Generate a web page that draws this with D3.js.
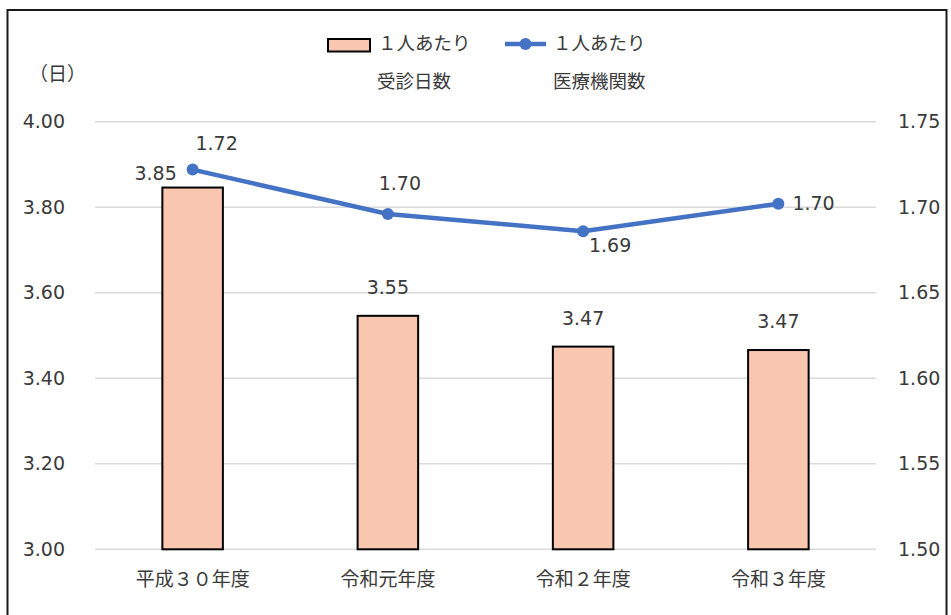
<!DOCTYPE html>
<html lang="ja">
<head>
<meta charset="utf-8">
<script src="https://cdn.jsdelivr.net/npm/d3@7"></script>
<style>
  html, body { margin: 0; padding: 0; background: #fff; }
  svg { display: block; }
</style>
</head>
<body>
<svg id="chart" width="951" height="615"></svg>
<script>
// Fiscal years on the x axis
const categories = ["平成３０年度", "令和元年度", "令和２年度", "令和３年度"];
// Consultation days per person (left axis, bars)
const daysPerPerson = [3.846, 3.546, 3.474, 3.466];
// Medical institutions per person (right axis, line)
const institutionsPerPerson = [1.722, 1.696, 1.686, 1.702];
// Axis ticks
const leftTicks = [3.0, 3.2, 3.4, 3.6, 3.8, 4.0];
const rightTicks = [1.50, 1.55, 1.60, 1.65, 1.70, 1.75];

const numFont = "'DejaVu Sans', Verdana, sans-serif";
const jpFont = "'Noto Sans CJK JP', 'Noto Sans', sans-serif";
const textColor = "#3a3a3a";
const barFill = "#F9C6AF";
const lineColor = "#4472C4";
const numSize = 19;

const svg = d3.select("#chart");
const plot = { left: 95, right: 876, top: 121.7, bottom: 549.3 };

const x = d3.scaleBand()
  .domain(categories)
  .range([plot.left, plot.right])
  .paddingInner(0.69)
  .paddingOuter(0.345);

const yLeft = d3.scaleLinear().domain([3.0, 4.0]).range([plot.bottom, plot.top]);
const yRight = d3.scaleLinear().domain([1.50, 1.75]).range([plot.bottom, plot.top]);
const fmt = d3.format(".2f");

// Outer frame
svg.append("rect")
  .attr("x", 7.5).attr("y", 10)
  .attr("width", 939).attr("height", 640)
  .attr("fill", "none")
  .attr("stroke", "#1a1a1a")
  .attr("stroke-width", 2);

// Gridlines
svg.append("g")
  .selectAll("line")
  .data(leftTicks)
  .join("line")
  .attr("x1", plot.left).attr("x2", plot.right)
  .attr("y1", d => yLeft(d)).attr("y2", d => yLeft(d))
  .attr("stroke", "#d9d9d9")
  .attr("stroke-width", 1.5);

// Left axis
const leftAxis = svg.append("g")
  .attr("transform", `translate(${plot.left},0)`)
  .call(d3.axisLeft(yLeft).tickValues(leftTicks).tickFormat(fmt).tickSize(0).tickPadding(30));
leftAxis.select(".domain").remove();
leftAxis.selectAll("text")
  .attr("font-family", numFont).attr("font-size", numSize).attr("fill", textColor);

// Right axis
const rightAxis = svg.append("g")
  .attr("transform", `translate(${plot.right},0)`)
  .call(d3.axisRight(yRight).tickValues(rightTicks).tickFormat(fmt).tickSize(0).tickPadding(22));
rightAxis.select(".domain").remove();
rightAxis.selectAll("text")
  .attr("font-family", numFont).attr("font-size", numSize).attr("fill", textColor);

// Category axis
const bottomAxis = svg.append("g")
  .attr("transform", `translate(0,${plot.bottom})`)
  .call(d3.axisBottom(x).tickSize(0).tickPadding(23));
bottomAxis.select(".domain").remove();
bottomAxis.selectAll("text")
  .attr("font-family", jpFont).attr("font-size", 19).attr("fill", textColor);

// Bars
svg.append("g")
  .selectAll("rect")
  .data(daysPerPerson)
  .join("rect")
  .attr("x", (d, i) => x(categories[i]))
  .attr("width", x.bandwidth())
  .attr("y", d => yLeft(d))
  .attr("height", d => yLeft(3.0) - yLeft(d))
  .attr("fill", barFill)
  .attr("stroke", "#000")
  .attr("stroke-width", 2);

// Bar value labels (first one sits left of the line marker)
const barLabelOffset = [{ dx: -37, dy: -8 }, { dx: 0, dy: -22 }, { dx: 0, dy: -22 }, { dx: 0, dy: -22 }];
svg.append("g")
  .selectAll("text")
  .data(daysPerPerson)
  .join("text")
  .attr("x", (d, i) => x(categories[i]) + x.bandwidth() / 2 + barLabelOffset[i].dx)
  .attr("y", (d, i) => yLeft(d) + barLabelOffset[i].dy)
  .attr("text-anchor", "middle")
  .attr("font-family", numFont).attr("font-size", numSize).attr("fill", textColor)
  .text(d => fmt(d));

// Line series
const cx = i => x(categories[i]) + x.bandwidth() / 2;
const line = d3.line()
  .x((d, i) => cx(i))
  .y(d => yRight(d));

svg.append("path")
  .datum(institutionsPerPerson)
  .attr("d", line)
  .attr("fill", "none")
  .attr("stroke", lineColor)
  .attr("stroke-width", 4.5)
  .attr("stroke-linejoin", "round");

svg.append("g")
  .selectAll("circle")
  .data(institutionsPerPerson)
  .join("circle")
  .attr("cx", (d, i) => cx(i))
  .attr("cy", d => yRight(d))
  .attr("r", 6)
  .attr("fill", lineColor);

const lineLabelOffset = [
  { dx: 24, dy: -20, anchor: "middle" },
  { dx: 12, dy: -24, anchor: "middle" },
  { dx: 27, dy: 21, anchor: "middle" },
  { dx: 14, dy: 6, anchor: "start" }
];
svg.append("g")
  .selectAll("text")
  .data(institutionsPerPerson)
  .join("text")
  .attr("x", (d, i) => cx(i) + lineLabelOffset[i].dx)
  .attr("y", (d, i) => yRight(d) + lineLabelOffset[i].dy)
  .attr("text-anchor", (d, i) => lineLabelOffset[i].anchor)
  .attr("font-family", numFont).attr("font-size", numSize).attr("fill", textColor)
  .text(d => fmt(d));

// Unit label for the left axis
svg.append("text")
  .attr("x", 29).attr("y", 81)
  .attr("font-family", jpFont).attr("font-size", 19).attr("fill", textColor)
  .text("（日）");

// Legend
const legend = svg.append("g");
legend.append("rect")
  .attr("x", 328).attr("y", 39)
  .attr("width", 42).attr("height", 12.5)
  .attr("fill", barFill)
  .attr("stroke", "#000")
  .attr("stroke-width", 2);
legend.append("text")
  .attr("x", 378).attr("y", 50)
  .attr("font-family", jpFont).attr("font-size", 18.5).attr("fill", textColor)
  .text("１人あたり");
legend.append("text")
  .attr("x", 377).attr("y", 88)
  .attr("font-family", jpFont).attr("font-size", 18.5).attr("fill", textColor)
  .text("受診日数");

legend.append("line")
  .attr("x1", 505).attr("x2", 546)
  .attr("y1", 44).attr("y2", 44)
  .attr("stroke", lineColor)
  .attr("stroke-width", 4.5);
legend.append("circle")
  .attr("cx", 525.5).attr("cy", 44).attr("r", 6)
  .attr("fill", lineColor);
legend.append("text")
  .attr("x", 553).attr("y", 50)
  .attr("font-family", jpFont).attr("font-size", 18.5).attr("fill", textColor)
  .text("１人あたり");
legend.append("text")
  .attr("x", 553).attr("y", 88)
  .attr("font-family", jpFont).attr("font-size", 18.5).attr("fill", textColor)
  .text("医療機関数");
</script>
</body>
</html>
